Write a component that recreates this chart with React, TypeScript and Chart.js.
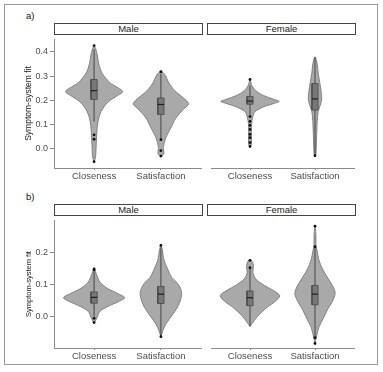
import React, { useEffect, useRef } from "react";
import { Chart, registerables } from "chart.js";
Chart.register(...registerables);

const FONT = "'Liberation Sans', Arial, sans-serif";

const categories = ["Closeness", "Satisfaction"];
const sexes = ["Male", "Female"];
const ticksA = [0, 0.1, 0.2, 0.3, 0.4];
const ticksB = [0, 0.1, 0.2];
const yTitle = "Symptom-system fit";

// ---- Panel a) violin outlines: levels (fit value) and half widths (category units)
const aMaleCloseLevels = [-0.053, -0.034, 0.006, 0.046, 0.08, 0.113, 0.153, 0.193, 0.215, 0.236, 0.255, 0.273, 0.313, 0.353, 0.393, 0.426];
const aMaleCloseWidths = [0, 0.022, 0.03, 0.037, 0.044, 0.059, 0.103, 0.207, 0.325, 0.428, 0.34, 0.236, 0.118, 0.068, 0.044, 0];
const aMaleSatLevels = [-0.034, -0.02, 0.006, 0.046, 0.086, 0.126, 0.16, 0.186, 0.213, 0.24, 0.273, 0.306, 0.32];
const aMaleSatWidths = [0, 0.044, 0.037, 0.074, 0.148, 0.222, 0.325, 0.414, 0.325, 0.207, 0.118, 0.059, 0];
const aFemaleCloseLevels = [0.006, 0.02, 0.06, 0.1, 0.133, 0.153, 0.173, 0.186, 0.196, 0.204, 0.22, 0.24, 0.26, 0.285];
const aFemaleCloseWidths = [0, 0.022, 0.022, 0.022, 0.044, 0.074, 0.207, 0.354, 0.45, 0.369, 0.207, 0.089, 0.03, 0];
const aFemaleSatLevels = [-0.031, -0.02, 0.033, 0.086, 0.113, 0.153, 0.18, 0.206, 0.233, 0.273, 0.313, 0.353, 0.38];
const aFemaleSatWidths = [0, 0.015, 0.022, 0.03, 0.034, 0.049, 0.081, 0.103, 0.096, 0.074, 0.049, 0.032, 0];

// ---- Panel b)
const bMaleCloseLevels = [-0.021, -0.003, 0.017, 0.032, 0.047, 0.059, 0.072, 0.087, 0.107, 0.127, 0.147];
const bMaleCloseWidths = [0, 0.044, 0.089, 0.207, 0.369, 0.458, 0.354, 0.207, 0.089, 0.044, 0];
const bMaleSatLevels = [-0.063, -0.043, -0.023, 0.007, 0.037, 0.067, 0.087, 0.107, 0.122, 0.147, 0.177, 0.207, 0.221];
const bMaleSatWidths = [0, 0.03, 0.074, 0.177, 0.266, 0.31, 0.295, 0.236, 0.162, 0.103, 0.044, 0.022, 0];
const bFemaleCloseLevels = [-0.031, -0.018, 0.002, 0.027, 0.047, 0.065, 0.082, 0.097, 0.117, 0.137, 0.152, 0.167, 0.178];
const bFemaleCloseWidths = [0, 0.044, 0.118, 0.251, 0.384, 0.458, 0.354, 0.222, 0.089, 0.044, 0.052, 0.044, 0];
const bFemaleSatLevels = [-0.083, -0.063, -0.033, -0.003, 0.022, 0.047, 0.072, 0.092, 0.117, 0.147, 0.177, 0.207, 0.22, 0.25, 0.281];
const bFemaleSatWidths = [0, 0.022, 0.059, 0.133, 0.192, 0.266, 0.31, 0.281, 0.207, 0.118, 0.059, 0.03, 0.015, 0.015, 0];

// ---- Box stats: [whisker low, q1, median, q3, whisker high]
const aMaleCloseBox = [0.113, 0.204, 0.24, 0.286, 0.41];
const aMaleSatBox = [0.04, 0.142, 0.183, 0.21, 0.31];
const aFemaleCloseBox = [0.135, 0.184, 0.197, 0.216, 0.262];
const aFemaleSatBox = [-0.028, 0.16, 0.206, 0.269, 0.378];
const bMaleCloseBox = [0.0, 0.042, 0.06, 0.077, 0.14];
const bMaleSatBox = [-0.06, 0.041, 0.07, 0.094, 0.215];
const bFemaleCloseBox = [-0.028, 0.034, 0.059, 0.08, 0.152];
const bFemaleSatBox = [-0.06, 0.037, 0.07, 0.097, 0.217];

// ---- Outliers
const aMaleCloseOut = [0.426, 0.058, 0.04, -0.053];
const aMaleSatOut = [0.318, 0.038, -0.007, -0.03];
const aFemaleCloseOut = [0.286, 0.133, 0.113, 0.097, 0.08, 0.06, 0.046, 0.026, 0.01];
const aFemaleSatOut = [-0.028];
const bMaleCloseOut = [0.148, 0.145, -0.005, -0.018];
const bMaleSatOut = [0.221, -0.062];
const bFemaleCloseOut = [0.175, 0.152];
const bFemaleSatOut = [0.281, 0.217, -0.065, -0.083];

type Violin = { levels: number[]; widths: number[]; box: number[]; out: number[] };

const BOX_HALF = 0.047;

function buildDatasets(violins: Violin[]) {
  const ds: any[] = [];
  violins.forEach((v, i) => {
    const pos = i + 1;
    const n = v.levels.length;
    const outline: { x: number; y: number }[] = [];
    for (let k = 0; k < n; k++) outline.push({ x: pos + v.widths[k], y: v.levels[k] });
    for (let k = n - 2; k >= 0; k--) outline.push({ x: pos - v.widths[k], y: v.levels[k] });
    ds.push({
      data: outline,
      showLine: true,
      fill: "shape",
      backgroundColor: "#a9a9a9",
      borderColor: "#6e6e6e",
      borderWidth: 0.8,
      pointRadius: 0,
      tension: 0.3,
      order: 5,
    });
    const [wl, q1, med, q3, wh] = v.box;
    ds.push({
      data: [{ x: pos, y: wl }, { x: pos, y: wh }],
      showLine: true,
      borderColor: "#3a3a3a",
      borderWidth: 0.9,
      pointRadius: 0,
      order: 4,
    });
    ds.push({
      data: [
        { x: pos - BOX_HALF, y: q1 },
        { x: pos + BOX_HALF, y: q1 },
        { x: pos + BOX_HALF, y: q3 },
        { x: pos - BOX_HALF, y: q3 },
        { x: pos - BOX_HALF, y: q1 },
      ],
      showLine: true,
      fill: "shape",
      backgroundColor: "#787878",
      borderColor: "#474747",
      borderWidth: 0.8,
      pointRadius: 0,
      tension: 0,
      order: 3,
    });
    ds.push({
      data: [{ x: pos - BOX_HALF, y: med }, { x: pos + BOX_HALF, y: med }],
      showLine: true,
      borderColor: "#1e1e1e",
      borderWidth: 1.2,
      pointRadius: 0,
      order: 2,
    });
    ds.push({
      data: v.out.map((y) => ({ x: pos, y })),
      showLine: false,
      pointRadius: 1.4,
      pointBackgroundColor: "#111",
      pointBorderWidth: 0,
      order: 1,
    });
  });
  return ds;
}

type PanelProps = {
  left: number;
  top: number;
  width: number;
  height: number;
  yMin: number;
  yMax: number;
  ticks: number[];
  showY: boolean;
  titleSize: number;
  violins: Violin[];
};

function Panel(p: PanelProps) {
  const ref = useRef<HTMLCanvasElement>(null);
  useEffect(() => {
    if (!ref.current) return;
    const chart = new Chart(ref.current, {
      type: "scatter",
      data: { datasets: buildDatasets(p.violins) },
      options: {
        responsive: false,
        animation: false,
        devicePixelRatio: 1,
        events: [],
        layout: { padding: { left: 0, right: 2, top: 0, bottom: 0 } },
        plugins: { legend: { display: false }, tooltip: { enabled: false }, title: { display: false } },
        scales: {
          x: {
            type: "linear",
            min: 0.4,
            max: 2.6,
            afterBuildTicks: (s: any) => {
              s.ticks = categories.map((_, i) => ({ value: i + 1 }));
            },
            afterFit: (s: any) => {
              s.height = 17;
              s.paddingLeft = 0;
              s.paddingRight = 0;
            },
            ticks: {
              autoSkip: false,
              maxRotation: 0,
              padding: 1,
              color: "#4d4d4d",
              font: { family: FONT, size: 9.5 },
              callback: (v: any) => categories[Math.round(Number(v)) - 1] ?? "",
            },
            grid: { drawOnChartArea: false, drawTicks: true, tickLength: 2, color: "#8a8a8a", lineWidth: 1 },
            border: { display: true, color: "#8a8a8a", width: 1 },
          },
          y: {
            type: "linear",
            display: p.showY,
            min: p.yMin,
            max: p.yMax,
            afterBuildTicks: (s: any) => {
              s.ticks = p.ticks.map((v) => ({ value: v }));
            },
            afterFit: (s: any) => {
              s.width = p.showY ? 36 : 0;
              s.paddingTop = 0;
              s.paddingBottom = 0;
            },
            ticks: {
              padding: 2,
              color: "#4d4d4d",
              font: { family: FONT, size: 9 },
              callback: (v: any) => Number(v).toFixed(1),
            },
            title: {
              display: true,
              text: yTitle,
              color: "#1a1a1a",
              font: { family: FONT, size: p.titleSize },
              padding: { top: 6, bottom: 0 },
            },
            grid: { drawOnChartArea: false, drawTicks: true, tickLength: 4, color: "#8a8a8a", lineWidth: 1 },
            border: { display: true, color: "#8a8a8a", width: 1 },
          },
        },
      },
    });
    return () => chart.destroy();
  }, []);
  return (
    <canvas
      ref={ref}
      width={p.width}
      height={p.height}
      style={{ position: "absolute", left: p.left, top: p.top, width: p.width, height: p.height }}
    />
  );
}

function Strip({ left, top, text }: { left: number; top: number; text: string }) {
  return (
    <div
      style={{
        position: "absolute",
        left,
        top,
        width: 149,
        height: 12,
        boxSizing: "border-box",
        border: "1px solid #444",
        background: "#fff",
        font: `9.5px ${FONT}`,
        color: "#1a1a1a",
        textAlign: "center",
        lineHeight: "10px",
      }}
    >
      {text}
    </div>
  );
}

const panelA: Violin[][] = [
  [
    { levels: aMaleCloseLevels, widths: aMaleCloseWidths, box: aMaleCloseBox, out: aMaleCloseOut },
    { levels: aMaleSatLevels, widths: aMaleSatWidths, box: aMaleSatBox, out: aMaleSatOut },
  ],
  [
    { levels: aFemaleCloseLevels, widths: aFemaleCloseWidths, box: aFemaleCloseBox, out: aFemaleCloseOut },
    { levels: aFemaleSatLevels, widths: aFemaleSatWidths, box: aFemaleSatBox, out: aFemaleSatOut },
  ],
];
const panelB: Violin[][] = [
  [
    { levels: bMaleCloseLevels, widths: bMaleCloseWidths, box: bMaleCloseBox, out: bMaleCloseOut },
    { levels: bMaleSatLevels, widths: bMaleSatWidths, box: bMaleSatBox, out: bMaleSatOut },
  ],
  [
    { levels: bFemaleCloseLevels, widths: bFemaleCloseWidths, box: bFemaleCloseBox, out: bFemaleCloseOut },
    { levels: bFemaleSatLevels, widths: bFemaleSatWidths, box: bFemaleSatBox, out: bFemaleSatOut },
  ],
];

export default function App() {
  return (
    <div style={{ position: "absolute", left: 0, top: 0, width: 383, height: 372, background: "#fff", overflow: "hidden" }}>
      <div
        style={{
          position: "absolute",
          left: 4,
          top: 4,
          width: 374,
          height: 361,
          boxSizing: "border-box",
          border: "1.5px solid #9a9a9a",
        }}
      />
      <div style={{ position: "absolute", left: 26, top: 10, font: `9.5px ${FONT}`, color: "#111", lineHeight: "11px" }}>a)</div>
      <div style={{ position: "absolute", left: 26, top: 191, font: `9.5px ${FONT}`, color: "#111", lineHeight: "11px" }}>b)</div>

      <Strip left={54} top={23} text={sexes[0]} />
      <Strip left={207} top={23} text={sexes[1]} />
      <Strip left={54} top={204} text={sexes[0]} />
      <Strip left={207} top={204} text={sexes[1]} />

      <Panel left={18} top={35} width={187} height={150} yMin={-0.079} yMax={0.453} ticks={ticksA} showY={true} titleSize={8.5} violins={panelA[0]} />
      <Panel left={207} top={35} width={151} height={150} yMin={-0.079} yMax={0.453} ticks={ticksA} showY={false} titleSize={8.5} violins={panelA[1]} />
      <Panel left={18} top={216} width={187} height={149} yMin={-0.097} yMax={0.3} ticks={ticksB} showY={true} titleSize={7.5} violins={panelB[0]} />
      <Panel left={207} top={216} width={151} height={149} yMin={-0.097} yMax={0.3} ticks={ticksB} showY={false} titleSize={7.5} violins={panelB[1]} />
    </div>
  );
}
